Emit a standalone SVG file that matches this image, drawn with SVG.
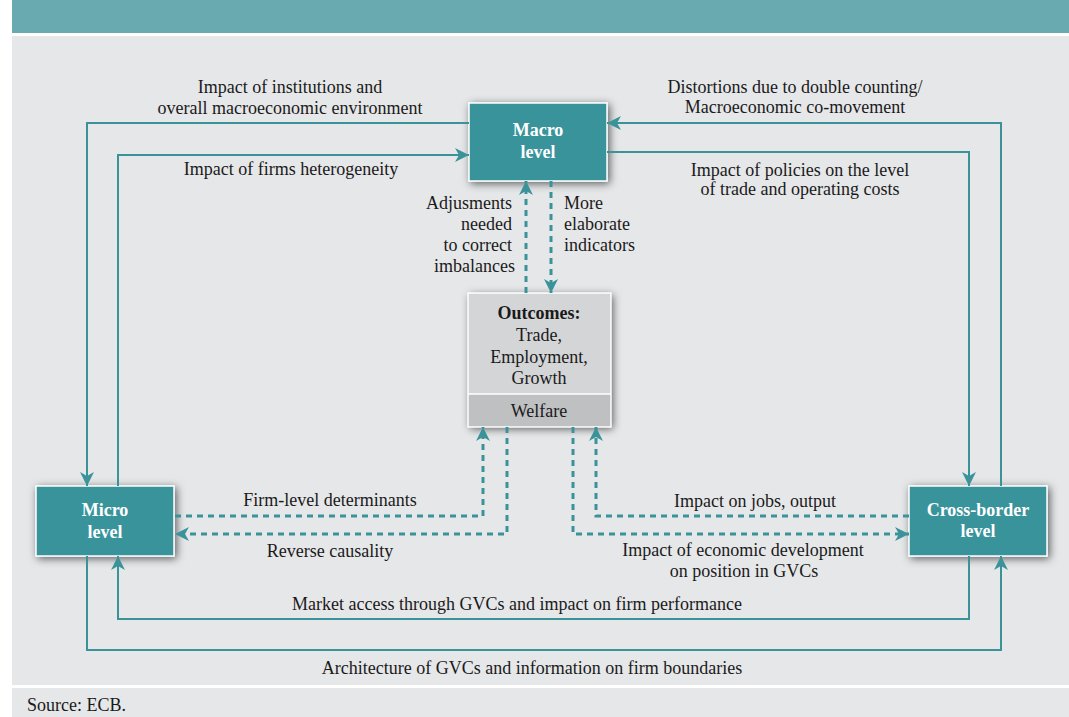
<svg xmlns="http://www.w3.org/2000/svg" width="1069" height="717" viewBox="0 0 1069 717">
<style>
text{font-family:"Liberation Serif","Times New Roman",serif;font-size:18px;fill:#1a1a1a}
.c{text-anchor:middle}
.e{text-anchor:end}
.w{fill:#ffffff;font-weight:bold}
.b{font-weight:bold}
.box{fill:#37939a;stroke:#ffffff;stroke-width:1.5}
.ln{fill:none;stroke:#3a9399;stroke-width:2}
.dl{fill:none;stroke:#3a9399;stroke-width:3;stroke-dasharray:6 5}
</style>
<defs>
<marker id="ah" viewBox="0 0 14 14" refX="14" refY="7" markerWidth="14" markerHeight="14" markerUnits="userSpaceOnUse" orient="auto">
<path d="M0,0 L14,7 L0,14 L4,7 Z" fill="#3a9399"/>
</marker>
<filter id="sh" x="-30%" y="-30%" width="160%" height="160%">
<feDropShadow dx="2" dy="2" stdDeviation="4" flood-color="#000" flood-opacity="0.6"/>
</filter>
</defs>
<rect x="0" y="0" width="1069" height="717" fill="#ffffff"/>
<rect x="12" y="0" width="1057" height="33" fill="#68aab0"/>
<rect x="12" y="36" width="1057" height="649" fill="#e6e7e9"/>
<rect x="12" y="688" width="1057" height="29" fill="#e6e7e9"/>
<text x="27" y="711">Source: ECB.</text>

<g id="macro">
<rect class="box" x="469" y="103" width="138" height="78" filter="url(#sh)"/>
<text class="c w" x="538" y="136">Macro</text>
<text class="c w" x="538" y="158">level</text>
</g>
<g id="outcomes">
<g filter="url(#sh)">
<rect x="468" y="293" width="143" height="134" fill="#d4d5d7"/>
<rect x="468" y="394" width="143" height="33" fill="#bfc0c2"/>
</g>
<line x1="468" y1="394" x2="611" y2="394" stroke="#ffffff" stroke-width="1.5"/>
<rect x="468" y="293" width="143" height="134" fill="none" stroke="#ffffff" stroke-width="1.5"/>
<text class="c b" x="539" y="319">Outcomes:</text>
<text class="c" x="539" y="341">Trade,</text>
<text class="c" x="539" y="363">Employment,</text>
<text class="c" x="539" y="384">Growth</text>
<text class="c" x="539" y="417">Welfare</text>
</g>
<g id="micro">
<rect class="box" x="36" y="486" width="138" height="70" filter="url(#sh)"/>
<text class="c w" x="105" y="516">Micro</text>
<text class="c w" x="105" y="538">level</text>
</g>
<g id="crossborder">
<rect class="box" x="909" y="486" width="138" height="70" filter="url(#sh)"/>
<text class="c w" x="978" y="516">Cross-border</text>
<text class="c w" x="978" y="537">level</text>
</g>

<g id="connectors">
<path class="ln" d="M469,123 H87 V486" marker-end="url(#ah)"/>
<path class="ln" d="M118,486 V155 H469" marker-end="url(#ah)"/>
<path class="ln" d="M1001,486 V123 H607" marker-end="url(#ah)"/>
<path class="ln" d="M607,152 H969 V486" marker-end="url(#ah)"/>
<path class="ln" d="M969,556 V619 H118 V556" marker-end="url(#ah)"/>
<path class="ln" d="M87,556 V650 H1001 V556" marker-end="url(#ah)"/>
<path class="dl" d="M526,293 V181" marker-end="url(#ah)"/>
<path class="dl" d="M551,181 V293" marker-end="url(#ah)"/>
<path class="dl" d="M175,516 H483 V427" marker-end="url(#ah)"/>
<path class="dl" d="M507,427 V534 H175" marker-end="url(#ah)"/>
<path class="dl" d="M573,427 V534 H909" marker-end="url(#ah)"/>
<path class="dl" d="M909,516 H596 V427" marker-end="url(#ah)"/>
</g>

<g id="labels">
<text class="c" x="290" y="93">Impact of institutions and</text>
<text class="c" x="290" y="114">overall macroeconomic environment</text>
<text class="c" x="291" y="175">Impact of firms heterogeneity</text>
<text class="c" x="795" y="93">Distortions due to double counting/</text>
<text class="c" x="795" y="113">Macroeconomic co-movement</text>
<text class="c" x="800" y="176">Impact of policies on the level</text>
<text class="c" x="800" y="195">of trade and operating costs</text>
<text class="e" x="512" y="209">Adjusments</text>
<text class="e" x="512" y="230">needed</text>
<text class="e" x="512" y="251">to correct</text>
<text class="e" x="515" y="272">imbalances</text>
<text x="564" y="209">More</text>
<text x="564" y="230">elaborate</text>
<text x="564" y="251">indicators</text>
<text class="c" x="330" y="506">Firm-level determinants</text>
<text class="c" x="330" y="557">Reverse causality</text>
<text class="c" x="755" y="507">Impact on jobs, output</text>
<text class="c" x="743" y="556">Impact of economic development</text>
<text class="c" x="744" y="577">on position in GVCs</text>
<text class="c" x="517" y="610">Market access through GVCs and impact on firm performance</text>
<text class="c" x="532" y="674">Architecture of GVCs and information on firm boundaries</text>
</g>
</svg>
